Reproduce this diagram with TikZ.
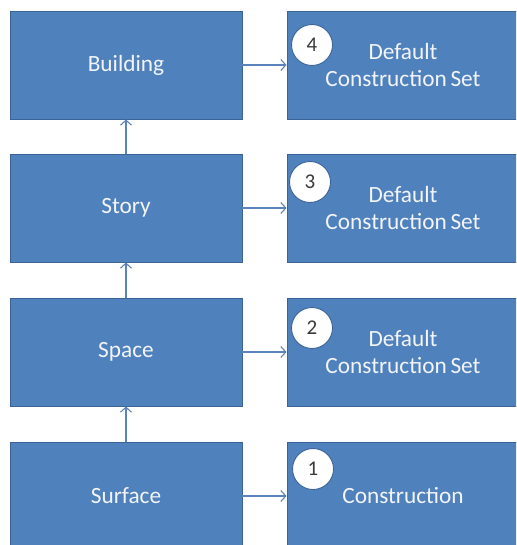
\documentclass[tikz,border=0pt]{standalone}
\usepackage{fontspec}
\setmainfont{Carlito}
\usetikzlibrary{arrows.meta}
\definecolor{boxfill}{HTML}{4F81BD}
\definecolor{boxline}{HTML}{3A6496}
\definecolor{arrowcol}{HTML}{5B84BE}
\definecolor{numcol}{HTML}{3A3A3A}
\definecolor{txtcol}{HTML}{F2F4F8}
\begin{document}
\begin{tikzpicture}[x=1pt,y=-1pt,
  blockbox/.style={draw=boxline,line width=0.9pt,fill=boxfill,rectangle,
    minimum width=232pt,minimum height=108pt,inner sep=0pt,
    text=txtcol,font=\fontsize{23.3}{27}\selectfont,align=center},
  numcircle/.style={circle,draw=boxline,line width=0.9pt,fill=white,
    minimum size=41pt,inner sep=0pt,text=numcol,font=\fontsize{21}{24}\selectfont},
  link/.style={draw=arrowcol,line width=1.1pt,-{Straight Barb[length=5pt,width=11pt]}}]
\clip (0,0) rectangle (516,545);
\fill[white] (0,0) rectangle (516,545);
% left column
\node[blockbox] (building) at (126,65) {Building};
\node[blockbox] (story) at (126,208) {Story};
\node[blockbox] (space) at (126,352) {Space};
\node[blockbox] (surface) at (126,496) {Surface};
% right column
\node[blockbox] (set4) at (403,65) {Default\\Construction\hspace{-1.5pt} Set};
\node[blockbox] (set3) at (403,208) {Default\\Construction\hspace{-1.5pt} Set};
\node[blockbox] (set2) at (403,352) {Default\\Construction\hspace{-1.5pt} Set};
\node[blockbox] (cons1) at (403,496) {Construction};
% numbers
\node[numcircle] (n4) at (312,45) {4};
\node[numcircle] (n3) at (310,182) {3};
\node[numcircle] (n2) at (312,328) {2};
\node[numcircle] (n1) at (313,469) {1};
% connectors
\draw[link] (building.east) -- (set4.west);
\draw[link] (story.east) -- (set3.west);
\draw[link] (space.east) -- (set2.west);
\draw[link] (surface.east) -- (cons1.west);
\draw[link] (story.north) -- (building.south);
\draw[link] (space.north) -- (story.south);
\draw[link] (surface.north) -- (space.south);
\end{tikzpicture}
\end{document}
